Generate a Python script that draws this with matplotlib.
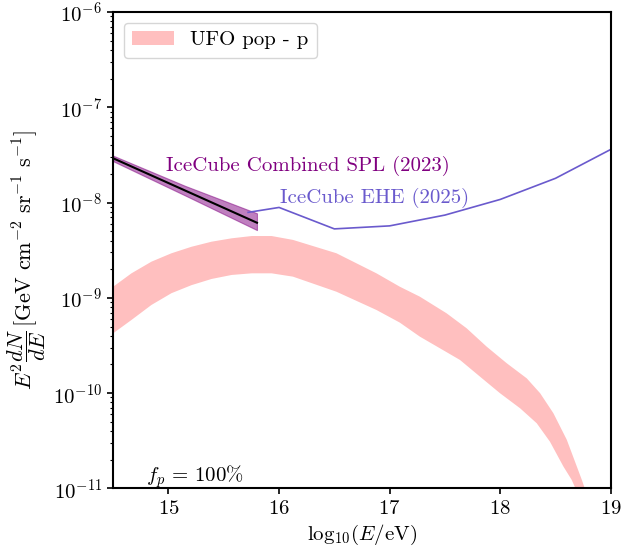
import numpy as np
import matplotlib
matplotlib.use("Agg")
import matplotlib.pyplot as plt

plt.rcParams["font.family"] = "serif"
plt.rcParams["font.serif"] = ["cmr10"]
plt.rcParams["mathtext.fontset"] = "cm"
plt.rcParams["axes.formatter.use_mathtext"] = True

# UFO population (protons) band: upper and lower edges, log10(E/eV) vs E^2 dN/dE
ufo_hi_logE = [14.5, 14.665, 14.846, 15.027, 15.208, 15.39, 15.571, 15.752, 15.933, 16.126,
               16.519, 16.881, 17.092, 17.273, 17.515, 17.696, 17.877, 18.059, 18.24, 18.361,
               18.481, 18.602, 18.738, 18.8]
ufo_hi = [1.31e-9, 1.81e-9, 2.40e-9, 2.94e-9, 3.44e-9, 3.89e-9, 4.22e-9, 4.46e-9, 4.46e-9, 4.06e-9,
          2.94e-9, 1.81e-9, 1.31e-9, 1.03e-9, 6.89e-10, 4.80e-10, 3.08e-10, 2.06e-10, 1.43e-10, 9.98e-11,
          6.15e-11, 3.24e-11, 1.23e-11, 7.6e-12]
ufo_lo_logE = [14.5, 14.665, 14.846, 15.027, 15.208, 15.39, 15.571, 15.752, 15.933, 16.126,
               16.519, 16.881, 17.092, 17.273, 17.454, 17.636, 17.817, 17.998, 18.18, 18.33,
               18.45, 18.571, 18.646, 18.7]
ufo_lo = [4.25e-10, 5.86e-10, 8.43e-10, 1.12e-9, 1.36e-9, 1.58e-9, 1.74e-9, 1.81e-9, 1.81e-9, 1.67e-9,
          1.16e-9, 7.46e-10, 5.5e-10, 3.92e-10, 2.96e-10, 2.23e-10, 1.49e-10, 9.98e-11, 6.93e-11, 4.83e-11,
          3.09e-11, 1.70e-11, 1.23e-11, 8.9e-12]

# IceCube combined single power law (2023)
spl_logE = [14.5, 15.15, 15.8]
spl_mid = [2.92e-8, 1.34e-8, 6.15e-9]
spl_hi = [3.11e-8, 1.50e-8, 7.73e-9]
spl_lo = [2.72e-8, 1.19e-8, 5.15e-9]

# IceCube EHE limit (2025)
ehe_logE = [15.72, 16.0, 16.5, 17.0, 17.5, 18.0, 18.5, 19.0]
ehe_flux = [7.9e-9, 8.9e-9, 5.3e-9, 5.7e-9, 7.4e-9, 1.08e-8, 1.80e-8, 3.62e-8]

fig = plt.figure(figsize=(6.22, 5.5), dpi=100)
ax = fig.add_axes([0.182, 0.112, 0.800, 0.866])

# band outline: upper edge left->right, lower edge right->left
band_x = ufo_hi_logE + ufo_lo_logE[::-1]
band_y = ufo_hi + ufo_lo[::-1]
ax.fill(band_x, band_y, facecolor="red", alpha=0.25, edgecolor="none",
        label="UFO pop - p")

ax.fill_between(spl_logE, spl_lo, spl_hi, color="purple", alpha=0.5, lw=0.8)
ax.plot(spl_logE, spl_mid, color="black", lw=1.5)

ax.plot(ehe_logE, ehe_flux, color="slateblue", lw=1.2)

ax.text(14.98, 2.45e-8, "IceCube Combined SPL (2023)", color="purple",
        fontsize=15, va="center", ha="left")
ax.text(16.005, 1.13e-8, "IceCube EHE (2025)", color="slateblue",
        fontsize=15, va="center", ha="left")
ax.text(14.8, 1.33e-11, r"$f_p\, =\, 100\%$", fontsize=15, va="center", ha="left")

ax.set_yscale("log")
ax.set_xlim(14.5, 19)
ax.set_ylim(1e-11, 1e-6)
ax.set_xticks([15, 16, 17, 18, 19])

ax.set_xlabel(r"$\mathrm{log}_{10}(E/\mathrm{eV})$", fontsize=15, labelpad=4)
ax.set_ylabel(r"$E^2\dfrac{dN}{dE}\,[\mathrm{GeV\ cm^{-2}\ sr^{-1}\ s^{-1}}]$",
              fontsize=16)
ax.yaxis.set_label_coords(-0.132, 0.48)

for s in ax.spines.values():
    s.set_linewidth(1.5)
ax.tick_params(which="major", labelsize=15, length=4.5, width=1.2)
ax.tick_params(which="minor", length=2.5, width=0.8)

ax.legend(loc="upper left", fontsize=15, handlelength=2.0, framealpha=0.8)

fig.savefig("out.png", dpi=100)
